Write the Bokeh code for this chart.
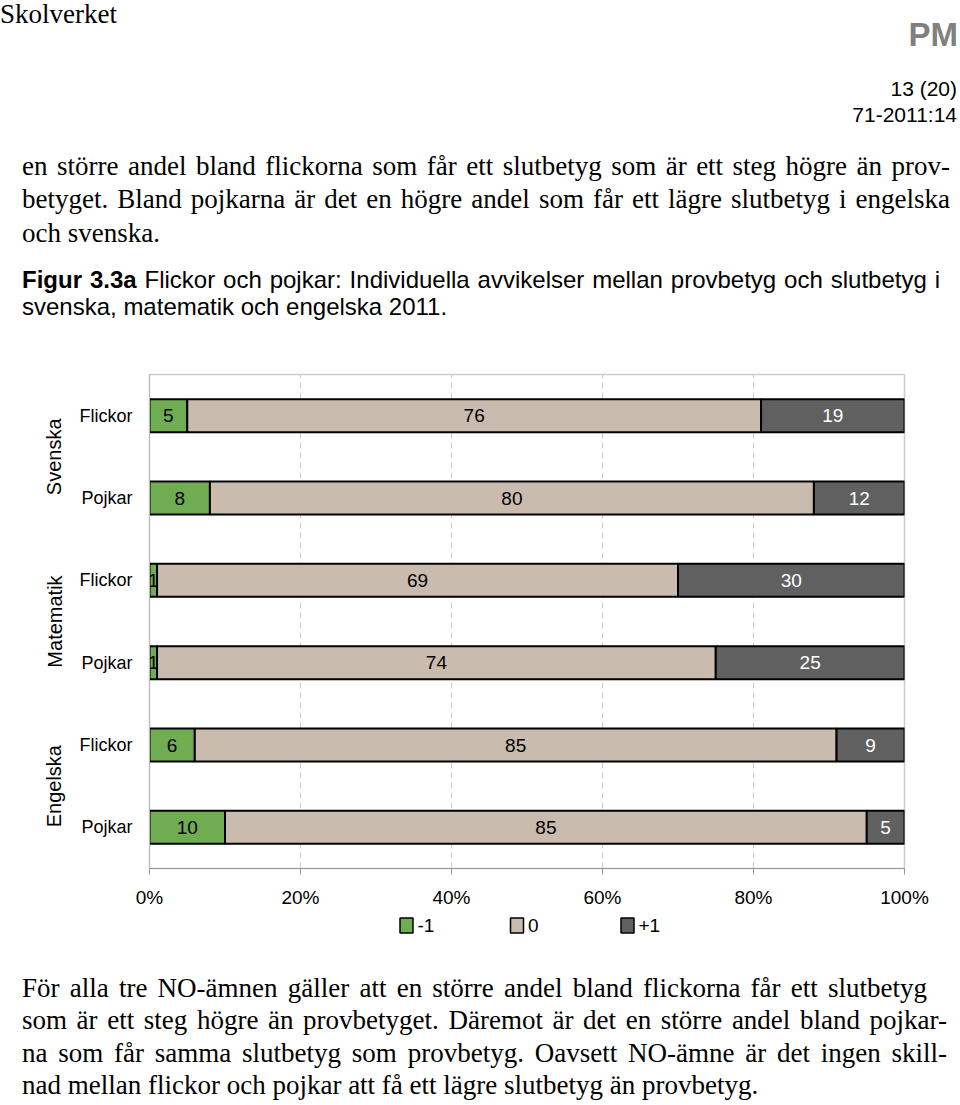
from bokeh.plotting import figure
from bokeh.models import (ColumnDataSource, FactorRange, Div,
                          PrintfTickFormatter, FixedTicker, Range1d)
from bokeh.layouts import column
from bokeh.embed import file_html
from bokeh.resources import INLINE
from bokeh.core.properties import value

# ---------------- data ----------------
subjects = ["Svenska", "Svenska", "Matematik", "Matematik", "Engelska", "Engelska"]
genders = ["Flickor", "Pojkar", "Flickor", "Pojkar", "Flickor", "Pojkar"]
minus1 = [5, 8, 1, 1, 6, 10]
zero = [76, 80, 69, 74, 85, 85]
plus1 = [19, 12, 30, 25, 9, 5]
series_names = ["-1", "0", "+1"]
x_ticks = [0, 20, 40, 60, 80, 100]

colors = ["#70AD52", "#C9BCAF", "#606060"]
label_colors = ["black", "black", "white"]
SANS = "Liberation Sans"
SERIF = "Liberation Serif"

# ---------------- chart ----------------
factors = list(zip(subjects, genders))
display_order = list(reversed(factors))

src = ColumnDataSource(dict(y=factors, m1=minus1, z0=zero, p1=plus1))

p = figure(frame_width=755, frame_height=494,
           y_range=FactorRange(factors=display_order, range_padding=0,
                               group_padding=0, factor_padding=0),
           x_range=Range1d(0, 100),
           output_backend="svg", toolbar_location=None,
           min_border_left=149, min_border_right=56,
           min_border_top=24, min_border_bottom=40)

rs = p.hbar_stack(["m1", "z0", "p1"], y="y", height=0.4, fill_color=colors,
                  line_color="black", line_width=2, source=src)

# segment labels
lx, ly, lt, lc = [], [], [], []
for i, f in enumerate(factors):
    vals = [minus1[i], zero[i], plus1[i]]
    start = 0
    for j, v in enumerate(vals):
        lx.append(start + v / 2)
        ly.append(f)
        lt.append(str(v))
        lc.append(label_colors[j])
        start += v
lsrc = ColumnDataSource(dict(x=lx, y=ly, t=lt, c=lc))
p.text(x="x", y="y", text="t", text_color="c", source=lsrc,
       text_font=value(SANS), text_font_size="19px",
       text_align="center", text_baseline="middle")

# axes
p.xaxis.ticker = FixedTicker(ticks=x_ticks)
p.xaxis.formatter = PrintfTickFormatter(format="%d%%")
p.xaxis.axis_line_color = "#999999"
p.xaxis.major_tick_line_color = "#999999"
p.xaxis.major_tick_out = 6
p.xaxis.major_tick_in = 0
p.xaxis.minor_tick_line_color = None
p.xaxis.major_label_text_font = SANS
p.xaxis.major_label_text_font_size = "19px"
p.xaxis.major_label_text_color = "black"
p.xaxis.major_label_standoff = 12

p.yaxis.axis_line_color = "#bbbbbb"
p.yaxis.major_tick_line_color = None
p.yaxis.minor_tick_line_color = None
p.yaxis.major_label_text_font = SANS
p.yaxis.major_label_text_font_size = "18px"
p.yaxis.major_label_text_color = "black"
p.yaxis.major_label_standoff = 11
p.yaxis.group_text_font = SANS
p.yaxis.group_text_font_size = "20px"
p.yaxis.group_text_font_style = "normal"
p.yaxis.group_text_color = "black"
p.yaxis.group_label_orientation = "vertical"
p.yaxis.separator_line_color = None

p.xgrid.ticker = FixedTicker(ticks=[20, 40, 60, 80])
p.xgrid.grid_line_color = "#cccccc"
p.xgrid.grid_line_dash = "6 4"
p.ygrid.grid_line_color = None
p.outline_line_color = "#cccccc"
p.outline_line_width = 1.5

# legend strip: one key per series; same frame width as the chart so the
# column layout keeps both frames aligned. Keys are spaced ~110 px apart.
key_px0, key_step = 257.0, 110.5
pl = figure(frame_width=755, frame_height=30,
            x_range=Range1d(-key_px0 / key_step, (755 - key_px0) / key_step),
            y_range=Range1d(-0.5, 0.5),
            output_backend="svg", toolbar_location=None,
            min_border_left=149, min_border_right=56,
            min_border_top=0, min_border_bottom=9,
            x_axis_type=None, y_axis_type=None, outline_line_color=None)
pl.xgrid.visible = False
pl.ygrid.visible = False
leg_src = ColumnDataSource(dict(x=list(range(len(series_names))), y=[0] * len(series_names),
                                t=series_names, c=colors))
pl.rect(x="x", y="y", width=13, height=15, width_units="screen", height_units="screen",
        fill_color="c", line_color="black", line_width=1.5, source=leg_src)
pl.text(x="x", y="y", text="t", x_offset=11, source=leg_src,
        text_font=value(SANS), text_font_size="19px", text_color="black",
        text_align="left", text_baseline="middle")

# ---------------- page texts ----------------
def line(text, left, baseline, size, font, width=None, justify=False,
         align="left", weight="normal", color="#000"):
    top = baseline - 0.84 * size
    w = f"width:{width}px;" if width else ""
    ta = "text-align:justify;text-align-last:justify;" if justify else f"text-align:{align};"
    return (f'<div style="position:absolute;left:{left}px;top:{top:.1f}px;{w}'
            f"font-family:'{font}';font-size:{size}px;line-height:{size}px;"
            f'font-weight:{weight};color:{color};white-space:nowrap;{ta}">{text}</div>')

top_html = '<div style="position:relative;width:960px;height:350px;">'
top_html += line("Skolverket", 0, 24, 27, SERIF)
top_html += line("PM", 0, 46, 33, SANS, width=958, align="right", weight="bold", color="#808080")
top_html += line("13 (20)", 0, 96, 21, SANS, width=957, align="right")
top_html += line("71-2011:14", 0, 122, 21, SANS, width=957, align="right")
para = ["en större andel bland flickorna som får ett slutbetyg som är ett steg högre än prov-",
        "betyget. Bland pojkarna är det en högre andel som får ett lägre slutbetyg i engelska",
        "och svenska."]
for k, (t, b) in enumerate(zip(para, [176, 209, 243])):
    top_html += line(t, 22, b, 27, SERIF, width=928 if k < 2 else None, justify=k < 2)
top_html += line("<b>Figur 3.3a</b> Flickor och pojkar: Individuella avvikelser mellan provbetyg och slutbetyg i",
                 22, 288, 24, SANS, width=918, justify=True)
top_html += line("svenska, matematik och engelska 2011.", 22, 315, 24, SANS)
top_html += "</div>"

bottom_lines = ["För alla tre NO-ämnen gäller att en större andel bland flickorna får ett slutbetyg",
                "som är ett steg högre än provbetyget. Däremot är det en större andel bland pojkar-",
                "na som får samma slutbetyg som provbetyg. Oavsett NO-ämne är det ingen skill-",
                "nad mellan flickor och pojkar att få ett lägre slutbetyg än provbetyg."]
bw = [905, 925, 925, None]
bot_html = '<div style="position:relative;width:960px;height:155px;">'
for t, b, w in zip(bottom_lines, [49, 81, 114, 146], bw):
    bot_html += line(t, 22, b, 27, SERIF, width=w, justify=w is not None)
bot_html += "</div>"

top_div = Div(text=top_html, width=960, height=350, margin=0)
bot_div = Div(text=bot_html, width=960, height=155, margin=0)

layout = column(top_div, p, pl, bot_div, spacing=0)
open("out.html", "w").write(file_html(layout, INLINE))
